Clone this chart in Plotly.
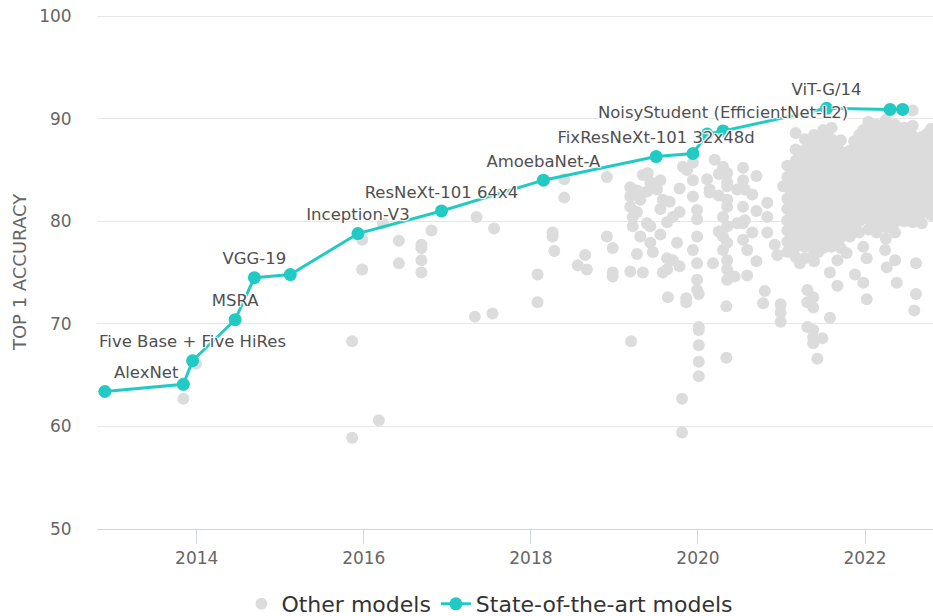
import plotly.graph_objects as go

# ---------------- data ----------------
# State-of-the-art models (year as decimal, top-1 accuracy %)
sota_year = [2012.90, 2013.84, 2013.95, 2014.46, 2014.69, 2015.12, 2015.93, 2016.93,
             2018.15, 2019.50, 2019.94, 2020.11, 2020.30, 2021.54, 2022.30, 2022.45]
sota_acc = [63.4, 64.1, 66.4, 70.4, 74.5, 74.8, 78.8, 81.0,
            84.0, 86.3, 86.6, 88.5, 88.8, 91.0, 90.9, 90.9]
sota_label = ["AlexNet", "", "Five Base + Five HiRes", "MSRA", "VGG-19", "",
              "Inception-V3", "ResNeXt-101 64x4", "AmoebaNet-A",
              "FixResNeXt-101 32x48d", "", "", "NoisyStudent (EfficientNet-L2)",
              "ViT-G/14", "", ""]

# Other models, grouped by publication date (decimal year) -> accuracies
other_col_year = [
    2013.84, 2013.99, 2015.86, 2015.98, 2016.18, 2016.23, 2016.42, 2016.69, 2016.81,
    2017.33, 2017.35, 2017.54, 2017.56, 2018.08, 2018.26, 2018.28, 2018.40, 2018.56,
    2018.65, 2018.67, 2018.91, 2018.98,
    2019.19, 2019.20, 2019.22, 2019.31, 2019.34, 2019.39, 2019.40, 2019.43, 2019.46,
    2019.51, 2019.58, 2019.63, 2019.64, 2019.66, 2019.70, 2019.75, 2019.81, 2019.82,
    2019.86, 2019.87, 2019.94, 2019.99, 2020.01, 2020.11, 2020.14, 2020.18, 2020.20,
    2020.30, 2020.34, 2020.35, 2020.44, 2020.47, 2020.54, 2020.56, 2020.59, 2020.78,
    2020.80, 2020.83, 2020.92, 2020.95, 2020.99, 2021.02,
    2021.22, 2021.31, 2021.38, 2021.43, 2021.49, 2021.58, 2021.67, 2021.78, 2021.88,
    2021.98, 2022.02, 2022.24, 2022.26, 2022.36, 2022.38, 2022.61, 2022.59,
    2021.07, 2021.17, 2021.28, 2021.39, 2021.50, 2021.60, 2021.71, 2021.82, 2021.93,
    2022.04, 2022.14, 2022.25, 2022.36, 2022.47, 2022.57, 2022.68, 2022.79,
    2019.27, 2019.55, 2019.78, 2020.25, 2020.65, 2020.70,
    2021.12, 2021.23, 2021.33, 2021.44, 2021.55, 2021.66, 2021.76, 2021.87,
    2021.98, 2022.09, 2022.20, 2022.31, 2022.41, 2022.52, 2022.63, 2022.74,
]
other_col_acc = [
    [62.7], [66.1], [68.3, 58.9], [78.2, 75.3], [60.6], [79.8], [78.1, 75.9],
    [77.7, 77.4, 76.2, 75.0], [79.1],
    [70.7], [80.4], [71.0], [79.3], [74.8, 72.1], [78.9, 78.5], [77.1], [84.1, 82.3], [75.7],
    [76.7], [75.3], [84.3, 78.5], [77.4, 75.0, 74.6],
    [83.3, 82.4, 81.4, 75.1], [68.3], [80.4, 79.5], [82.1, 78.5], [84.5, 75.0], [82.9, 79.8],
    [84.7], [83.8, 79.5, 77.9], [77.0],
    [83.1], [82.1, 75.0], [79.9, 76.4, 75.3], [72.6], [81.9], [80.4, 76.2], [77.9],
    [62.7, 59.4], [85.3],
    [72.5, 72.1], [85.0], [85.7, 84.0, 82.4, 77.2], [81.1, 80.2, 78.5, 75.9, 74.3, 73.3],
    [72.9, 69.7, 69.4, 67.9, 66.3, 64.9], [84.1], [83.1, 82.8], [75.9], [86.0],
    [85.3, 80.4, 78.5, 77.2], [71.7, 66.7],
    [84.7, 83.8, 83.4, 82.1, 81.4, 79.5, 77.9, 76.2, 75.3, 74.3], [74.6], [83.1, 79.8],
    [85.2, 84.0, 81.4, 79.8, 78.2], [83.1, 80.1], [77.2, 74.7], [72.0],
    [73.2], [81.8, 80.4, 78.9], [77.7], [76.7], [71.9, 71.1, 70.2], [83.4],
    [75.9], [73.3, 72.1, 69.7], [72.6, 71.6, 69.4, 68.7, 68.1], [66.6], [68.6], [70.6, 75.0],
    [73.7, 76.2], [76.9], [74.8],
    [74.0, 77.5], [72.4, 76.4], [77.2], [75.5], [76.2], [74.0], [75.9, 72.9], [71.3],
    [85.4, 84.3, 83.3, 82.2, 81.2, 80.1, 79.1, 78.0, 77.0],
    [88.6, 87.0, 85.9, 84.9, 83.8, 82.8, 81.7, 80.7, 79.6, 78.6, 77.5, 76.5],
    [88.0, 86.9, 85.9, 84.8, 83.8, 82.7, 81.7, 80.6, 79.6, 78.5, 77.5, 76.4],
    [88.4, 87.4, 86.3, 85.3, 84.2, 83.2, 82.1, 81.1, 80.0, 79.0, 77.9, 76.9, 76.1],
    [88.9, 87.9, 86.8, 85.8, 84.7, 83.7, 82.6, 81.6, 80.5, 79.5, 78.4, 77.4],
    [89.1, 88.0, 87.0, 85.9, 84.9, 83.8, 82.8, 81.7, 80.7, 79.6, 78.6, 77.5],
    [87.9, 86.8, 85.8, 84.7, 83.7, 82.6, 81.6, 80.5, 79.5, 78.4, 77.4],
    [86.9, 85.8, 84.8, 83.7, 82.7, 81.6, 80.6, 79.5, 78.5],
    [88.4, 87.3, 86.3, 85.2, 84.2, 83.1, 82.1, 81.0, 80.0, 78.9],
    [89.7, 88.6, 87.6, 86.5, 85.5, 84.4, 83.4, 82.3, 81.3, 80.2, 79.2],
    [89.4, 88.4, 87.3, 86.3, 85.2, 84.2, 83.1, 82.1, 81.0, 80.0, 78.9],
    [89.9, 88.8, 87.8, 86.7, 85.7, 84.6, 83.6, 82.5, 81.5, 80.4, 79.4, 78.3],
    [89.4, 88.3, 87.3, 86.2, 85.2, 84.1, 83.1, 82.0, 81.0, 79.9, 78.9],
    [89.1, 88.4, 87.3, 86.3, 85.2, 84.2, 83.1, 82.1, 81.0, 80.0],
    [90.8, 89.3, 88.3, 87.2, 86.2, 85.1, 84.1, 83.0, 82.0, 80.9, 79.9],
    [88.2, 87.1, 86.1, 85.0, 84.0, 82.9, 81.9, 80.8, 79.8],
    [89.0, 87.9, 86.9, 85.8, 84.8, 83.7, 82.7, 81.6, 80.6],
    [83.0, 80.9, 76.8], [84.0, 81.2, 78.7], [83.2, 80.9, 75.6], [84.6, 82.5, 79.0],
    [82.6, 78.9], [84.4, 81.0, 76.1],
    [84.8, 83.8, 82.7, 81.7, 80.6, 79.6, 78.5],
    [86.4, 85.4, 84.3, 83.3, 82.2, 81.2, 80.1, 79.1, 78.0],
    [87.4, 86.4, 85.3, 84.3, 83.2, 82.2, 81.1, 80.1, 79.0, 78.0],
    [88.0, 86.9, 85.9, 84.8, 83.8, 82.7, 81.7, 80.6, 79.6, 78.5, 77.0],
    [88.4, 87.4, 86.3, 85.3, 84.2, 83.2, 82.1, 81.1, 80.0, 79.0, 78.0],
    [87.4, 86.3, 85.3, 84.2, 83.2, 82.1, 81.1, 80.0, 79.0, 78.0],
    [86.3, 85.3, 84.2, 83.2, 82.1, 81.1, 80.0, 79.0],
    [87.8, 86.8, 85.7, 84.7, 83.6, 82.6, 81.5, 80.5, 79.4],
    [88.9, 87.9, 86.8, 85.8, 84.7, 83.7, 82.6, 81.6, 80.5],
    [89.1, 88.1, 87.0, 86.0, 84.9, 83.9, 82.8, 81.8, 80.7, 79.7],
    [89.3, 88.3, 87.2, 86.2, 85.1, 84.1, 83.0, 82.0, 80.9, 79.9],
    [88.9, 87.8, 86.8, 85.7, 84.7, 83.6, 82.6, 81.5, 80.5, 79.4],
    [88.8, 87.8, 86.7, 85.7, 84.6, 83.6, 82.5, 81.5, 80.5],
    [88.8, 87.8, 86.7, 85.7, 84.6, 83.6, 82.5, 81.5, 80.4],
    [87.7, 86.7, 85.6, 84.6, 83.5, 82.5, 81.4, 80.4],
    [88.5, 87.4, 86.4, 85.3, 84.3, 83.2, 82.2, 81.1],
]

x_tick_vals = [2014, 2016, 2018, 2020, 2022]
x_tick_text = ["2014", "2016", "2018", "2020", "2022"]
y_tick_vals = [50, 60, 70, 80, 90, 100]

# ---------------- build ----------------
other_x, other_y = [], []
for yr, accs in zip(other_col_year, other_col_acc):
    for a in accs:
        other_x.append(yr)
        other_y.append(a)

TEAL = "#21cbc3"
FONT = "DejaVu Sans"
halo = "1px 1px 1px #fff, -1px -1px 1px #fff, 1px -1px 1px #fff, -1px 1px 1px #fff, 0px 0px 2px #fff"

fig = go.Figure()
fig.add_trace(go.Scatter(
    x=other_x, y=other_y, mode="markers", name="Other models",
    marker=dict(color="#dcdcdc", size=12, line=dict(width=0)),
    hoverinfo="skip",
))
fig.add_trace(go.Scatter(
    x=sota_year, y=sota_acc, mode="lines+markers+text", name="State-of-the-art models",
    line=dict(color=TEAL, width=3),
    marker=dict(color=TEAL, size=13, line=dict(width=0)),
    text=sota_label,
    textposition=["top right"] + ["top center"] * (len(sota_label) - 1),
    textfont=dict(family=FONT, size=16.5, color="#505050", shadow=halo),
    hoverinfo="skip",
))

fig.update_layout(
    width=933, height=616,
    margin=dict(l=97, r=0, t=15, b=87, autoexpand=False),
    paper_bgcolor="white", plot_bgcolor="white",
    font=dict(family=FONT, color="#666666"),
    showlegend=True,
    legend=dict(orientation="h", x=0.47, xanchor="center", y=-0.146, yanchor="middle",
                font=dict(family=FONT, size=22, color="#333333"),
                bgcolor="rgba(0,0,0,0)"),
    xaxis=dict(
        range=[2012.806, 2022.814], tickvals=x_tick_vals, ticktext=x_tick_text,
        showgrid=False, zeroline=False, showline=True, linecolor="#ccd6eb", linewidth=1,
        ticks="outside", ticklen=14, tickcolor="#ccd6eb", tickwidth=1,
        tickfont=dict(family=FONT, size=17, color="#666666"), automargin=False,
    ),
    yaxis=dict(
        range=[50, 100.1], tickvals=y_tick_vals, showgrid=True, gridcolor="#e6e6e6",
        gridwidth=1, zeroline=False, showline=False,
        ticks="outside", ticklen=21, tickcolor="rgba(0,0,0,0)",
        tickfont=dict(family=FONT, size=17, color="#666666"), automargin=False,
        title=dict(text="TOP 1 ACCURACY", font=dict(family=FONT, size=18, color="#666666"),
                   standoff=7),
    ),
)

# remove the default page margin/scrollbars so the 933x616 figure fills the window
fig.write_html("out.html", config={"displayModeBar": False},
               post_script="document.body.style.margin='0';document.body.style.overflow='hidden';")
